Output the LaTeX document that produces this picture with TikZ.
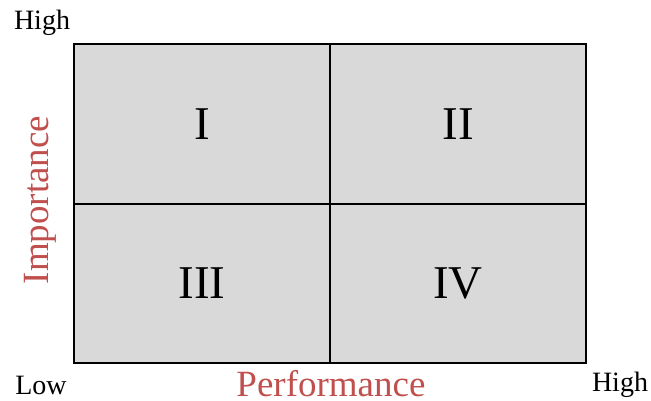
\documentclass[tikz,border=0pt]{standalone}
\usepackage{fontspec}
\setmainfont{Liberation Serif}
\usepackage{tikz}
\usetikzlibrary{positioning}

\definecolor{quadgray}{HTML}{D9D9D9}
\definecolor{axisred}{HTML}{C0504D}

\begin{document}
\begin{tikzpicture}[x=1pt,y=-1pt,
	quad/.style={draw,line width=1.8pt,fill=quadgray,minimum width=256pt,minimum height=159.5pt,inner sep=0pt,font=\fontsize{47}{47}\selectfont},
	endlabel/.style={inner sep=0pt,font=\fontsize{28}{28}\selectfont},
	axislabel/.style={inner sep=0pt,text=axisred,font=\fontsize{37}{37}\selectfont}]

	\useasboundingbox (0,0) rectangle (651,401);

	% the four quadrants
	\node[quad] (q1) at (202,124) {I};
	\node[quad] (q2) at (458,124) {II};
	\node[quad] (q3) at (202,283.5) {III};
	\node[quad] (q4) at (458,283.5) {IV};

	% ends of the axes
	\node[endlabel] (hightop) at (42,23) {High};
	\node[endlabel] (low) at (41,385) {Low};
	\node[endlabel] (highright) at (620,385) {High};

	\node[axislabel] (perf) at (331,384) {Performance};
	\node[axislabel,rotate=90] (imp) at (40,200) {Importance};

\end{tikzpicture}
\end{document}
